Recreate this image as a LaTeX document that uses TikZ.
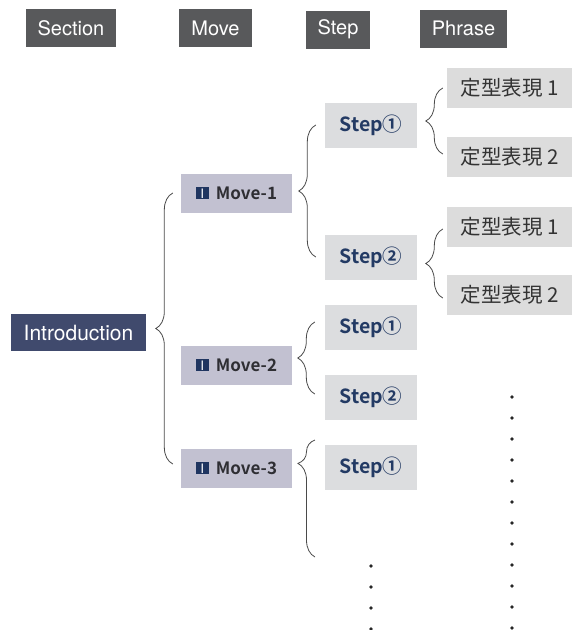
\documentclass[tikz,border=0pt]{standalone}
\usepackage{fontspec}
\setmainfont{TeX Gyre Heros}
\newfontfamily\cjk{Noto Sans CJK JP}[BoldFont={Noto Sans CJK JP Bold}]
\usetikzlibrary{decorations.pathreplacing}

\definecolor{headgray}{HTML}{58595B}
\definecolor{intronavy}{HTML}{404A6D}
\definecolor{movegray}{HTML}{C2C1D1}
\definecolor{movetext}{HTML}{2E2E33}
\definecolor{iconnavy}{HTML}{1F3560}
\definecolor{stepgray}{HTML}{DCDDDF}
\definecolor{stepnavy}{HTML}{233A64}
\definecolor{phrasegray}{HTML}{DCDCDC}
\definecolor{phrasetext}{HTML}{333333}
\definecolor{bracegray}{HTML}{4A4A4A}

% small roman numeral mark in front of each move
\newcommand{\movemark}{{\setlength{\fboxsep}{0pt}\colorbox{iconnavy}{\makebox[13pt][c]{\rule{0pt}{12pt}\raisebox{0.5pt}{\textcolor{white}{\mdseries\fontsize{13}{13}\selectfont Ⅰ}}}}}}

\begin{document}
\begin{tikzpicture}[x=1pt,y=-1pt,
    head/.style={fill=headgray, text=white, inner xsep=12pt, minimum height=38pt,
      font=\fontsize{20}{24}\selectfont},
    sect/.style={fill=intronavy, text=white, inner xsep=13pt, minimum height=37pt,
      font=\fontsize{21}{25}\selectfont},
    movebox/.style={fill=movegray, text=movetext, minimum width=111pt, minimum height=39pt,
      font=\cjk\bfseries\fontsize{17}{20}\selectfont},
    stepbox/.style={fill=stepgray, text=stepnavy, minimum width=92pt, minimum height=45pt,
      font=\cjk\bfseries\fontsize{19.5}{23}\selectfont},
    phrasebox/.style={fill=phrasegray, text=phrasetext, minimum width=125pt, minimum height=40pt,
      font=\cjk\fontsize{20.5}{24}\selectfont},
    curly/.style={decorate, decoration={brace, amplitude=17pt}, draw=bracegray, line width=0.8pt},
    dot/.style={fill=black!85}
  ]
  \useasboundingbox (0,0) rectangle (575,630);

  % Header row
  \node[head] (hsect) at (71,28) {Section};
  \node[head] (hmove) at (215.5,28) {Move};
  \node[head] (hstep) at (338,29.5) {Step};
  \node[head] (hphrase) at (463.5,28.5) {Phrase};

  % Section
  \node[sect] (intro) at (78.5,332.5) {Introduction};

  % Moves
  \node[movebox] (m1) at (236.5,193) {\movemark\hspace{7pt}Move-1};
  \node[movebox] (m2) at (236.5,365) {\movemark\hspace{7pt}Move-2};
  \node[movebox] (m3) at (236.5,468) {\movemark\hspace{7pt}Move-3};

  % Steps
  \node[stepbox] (s11) at (371,125) {Step①};
  \node[stepbox] (s12) at (371,257) {Step②};
  \node[stepbox] (s21) at (371,327) {Step①};
  \node[stepbox] (s22) at (371,397) {Step②};
  \node[stepbox] (s31) at (371,467) {Step①};

  % Phrases
  \node[phrasebox] (p111) at (509.5,88) {定型表現 1};
  \node[phrasebox] (p112) at (509.5,157) {定型表現 2};
  \node[phrasebox] (p121) at (509.5,227) {定型表現 1};
  \node[phrasebox] (p122) at (509.5,295) {定型表現 2};

  % Braces
  \draw[curly] ([xshift=-8pt,yshift=4pt]m3.west) -- ([xshift=-8pt]m1.west);
  \draw[curly] ([xshift=-9pt]s12.west) -- ([xshift=-9pt]s11.west);
  \draw[curly] ([xshift=-10pt,yshift=3pt]s22.west) -- ([xshift=-10pt,yshift=5pt]s21.west);
  \coordinate (m3low) at (315,557);
  \coordinate (m3top) at (315,440);
  \draw[curly, decoration={aspect=0.8}] (m3low) -- (m3top);
  \draw[curly] ([xshift=-4pt,yshift=3pt]p112.west) -- ([xshift=-4pt]p111.west);
  \draw[curly] ([xshift=-4pt,yshift=-3pt]p122.west) -- ([xshift=-4pt,yshift=-2pt]p121.west);

  % Dots for the steps and phrases that follow
  \foreach \k in {0,...,3} {
    \fill[dot] (371,566+21*\k) circle (1.8);
  }
  \foreach \k in {0,...,11} {
    \fill[dot] (512,397+21*\k) circle (1.8);
  }
\end{tikzpicture}
\end{document}
